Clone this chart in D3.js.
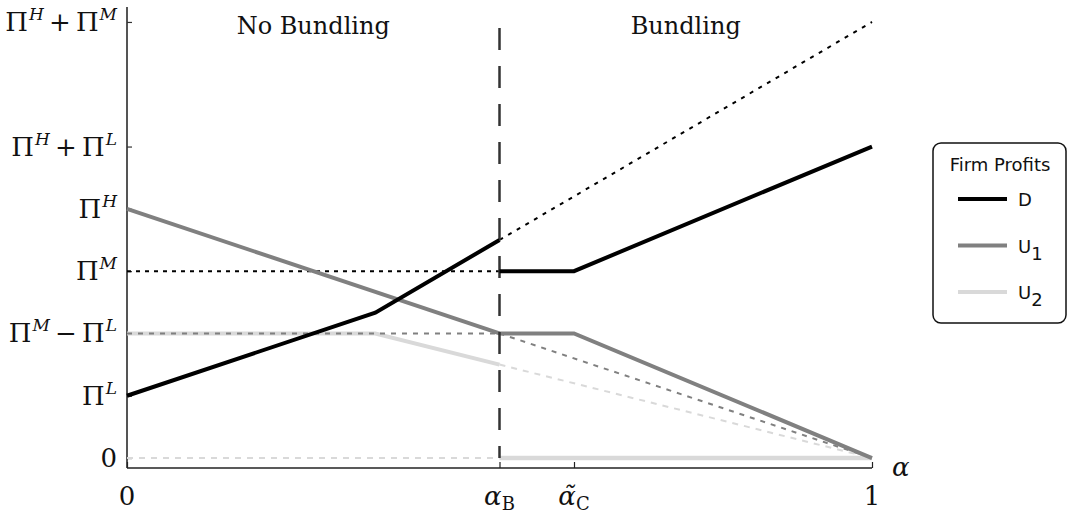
<!DOCTYPE html>
<html>
<head>
<meta charset="utf-8">
<script src="https://cdn.jsdelivr.net/npm/d3@7"></script>
<style>
  body { margin: 0; background: #fff; }
  svg { display: block; }
</style>
</head>
<body>
<div id="chart"></div>
<script>
// profit levels in units of Pi^L (Pi^L = 1, Pi^M = 3, Pi^H = 4)
var yTickValues = [0, 1, 2, 3, 4, 5, 7];
var yTickLabels = [
  [["0"]],
  [["\u03A0"], ["L", "sup"]],
  [["\u03A0"], ["M", "sup"], ["\u2009\u2212\u2009\u03A0"], ["L", "sup"]],
  [["\u03A0"], ["M", "sup"]],
  [["\u03A0"], ["H", "sup"]],
  [["\u03A0"], ["H", "sup"], ["\u2009+\u2009\u03A0"], ["L", "sup"]],
  [["\u03A0"], ["H", "sup"], ["\u2009+\u2009\u03A0"], ["M", "sup"]]
];
var xTickValues = [0, 0.5, 0.6, 1];
var xTickLabels = [
  [["0", "up"]],
  [["\u03B1", "it"], ["B", "sub"]],
  [["\u03B1\u0303", "it"], ["C", "sub"]],
  [["1", "up"]]
];
var alphaB = 0.5, alphaC = 0.6;

// series: [alpha, profit]
var dNoBundle = [[0, 1], [1/3, 7/3], [0.5, 3.5]];
var dBundle = [[0.5, 3], [0.6, 3], [1, 5]];
var dAlt = [[0.5, 3.5], [1, 7]];
var u1NoBundle = [[0, 4], [0.5, 2]];
var u1Bundle = [[0.5, 2], [0.6, 2], [1, 0]];
var u1Alt = [[0.5, 2], [1, 0]];
var u2NoBundle = [[0, 2], [1/3, 2], [0.5, 1.5]];
var u2Bundle = [[0.5, 0], [1, 0]];
var u2Alt = [[0.5, 1.5], [1, 0]];
var u2Zero = [[0, 0], [0.5, 0]];
var refM = [[0, 3], [0.5, 3]];
var refML = [[0, 2], [0.5, 2]];

var legendNames = [["D"], ["U", "1"], ["U", "2"]];
var colors = { D: "#000000", U1: "#808080", U2: "#d9d9d9" };

var width = 1068, height = 516;
var svg = d3.select("#chart").append("svg")
  .attr("width", width)
  .attr("height", height);

var x = d3.scaleLinear().domain([0, 1]).range([127, 872]);
var y = d3.scaleLinear().domain([-0.16, 7.24]).range([468, 7]);

var line = d3.line()
  .x(function (d) { return x(d[0]); })
  .y(function (d) { return y(d[1]); });

var serif = "'DejaVu Serif', serif";
var sans = "'DejaVu Sans', sans-serif";

// axes
var yAxis = d3.axisRight(y).tickValues(yTickValues).tickSize(5).tickFormat("");
svg.append("g")
  .attr("transform", "translate(" + x(0) + ",0)")
  .call(yAxis)
  .call(function (g) { g.selectAll("line").attr("stroke", "#333").attr("stroke-width", 1.2); })
  .call(function (g) { g.select(".domain").attr("stroke", "#555").attr("stroke-width", 2).attr("d", "M0,7V468"); });

var xAxis = d3.axisTop(x).tickValues(xTickValues).tickSize(6).tickFormat("");
svg.append("g")
  .attr("transform", "translate(0," + y.range()[0] + ")")
  .call(xAxis)
  .call(function (g) { g.selectAll("line").attr("stroke", "#222").attr("stroke-width", 1.2); })
  .call(function (g) { g.select(".domain").attr("stroke", "#222").attr("stroke-width", 1.5).attr("d", "M127,0H872"); });

// y tick labels
yTickValues.forEach(function (v, i) {
  var t = svg.append("text")
    .attr("x", 117)
    .attr("y", y(v) + 9)
    .attr("text-anchor", "end")
    .attr("font-family", serif)
    .attr("font-size", 26)
    .attr("fill", "#111");
  var raised = false;
  yTickLabels[i].forEach(function (p) {
    if (p[1] === "sup") {
      t.append("tspan").attr("font-size", 17).attr("font-style", "italic")
        .attr("dx", 1).attr("dy", -11).text(p[0]);
      raised = true;
    } else {
      t.append("tspan").attr("dy", raised ? 11 : 0).text(p[0]);
      raised = false;
    }
  });
});

// x tick labels
xTickValues.forEach(function (v, i) {
  var t = svg.append("text")
    .attr("x", x(v))
    .attr("y", 505)
    .attr("text-anchor", "middle")
    .attr("font-family", serif)
    .attr("font-size", 26)
    .attr("fill", "#111");
  xTickLabels[i].forEach(function (p) {
    if (p[1] === "sub") {
      t.append("tspan").attr("font-size", 18).attr("dy", 5).text(p[0]);
    } else if (p[1] === "it") {
      t.append("tspan").attr("font-style", "italic").text(p[0]);
    } else {
      t.append("tspan").text(p[0]);
    }
  });
});

svg.append("text")
  .attr("x", 892)
  .attr("y", 476)
  .attr("font-family", serif)
  .attr("font-style", "italic")
  .attr("font-size", 26)
  .attr("fill", "#111")
  .text("\u03B1");

// region titles
[["No Bundling", 0, alphaB], ["Bundling", alphaB, 1]].forEach(function (r) {
  svg.append("text")
    .attr("x", (x(r[1]) + x(r[2])) / 2)
    .attr("y", 34)
    .attr("text-anchor", "middle")
    .attr("font-family", serif)
    .attr("font-size", 24)
    .attr("fill", "#111")
    .text(r[0]);
});

function draw(data, color, w, dash) {
  svg.append("path")
    .datum(data)
    .attr("fill", "none")
    .attr("stroke", color)
    .attr("stroke-width", w)
    .attr("stroke-dasharray", dash || null)
    .attr("d", line);
}

// U2 (light)
draw(u2Zero, colors.U2, 2, "6,6");
draw(u2NoBundle, colors.U2, 4);
draw(u2Alt, colors.U2, 2, "6,6");
draw(u2Bundle, colors.U2, 4.5);

// reference lines
draw(refML, colors.U1, 2, "5,6");
draw(refM, "#000", 2, "4,5");
draw(u1Alt, colors.U1, 2, "5,6");
draw(dAlt, "#000", 2, "4,6");

// U1
draw(u1NoBundle, colors.U1, 4);
draw(u1Bundle, colors.U1, 4);

// alpha_B divider
svg.append("line")
  .attr("x1", x(alphaB)).attr("x2", x(alphaB))
  .attr("y1", 28).attr("y2", y(0))
  .attr("stroke", "#333")
  .attr("stroke-width", 2.5)
  .attr("stroke-dasharray", "22,16");

// D
draw(dNoBundle, colors.D, 4);
draw(dBundle, colors.D, 4);

// legend
var lg = svg.append("g").attr("transform", "translate(933,143)");
lg.append("rect")
  .attr("width", 133).attr("height", 180)
  .attr("rx", 8)
  .attr("fill", "#fff")
  .attr("stroke", "#111")
  .attr("stroke-width", 1.5);
lg.append("text")
  .attr("x", 67).attr("y", 28)
  .attr("text-anchor", "middle")
  .attr("font-family", sans)
  .attr("font-size", 18)
  .attr("fill", "#111")
  .text("Firm Profits");
var legendColors = [colors.D, colors.U1, colors.U2];
var legendY = d3.scalePoint().domain(d3.range(3)).range([56, 149]);
legendNames.forEach(function (n, i) {
  lg.append("line")
    .attr("x1", 25).attr("x2", 74)
    .attr("y1", legendY(i)).attr("y2", legendY(i))
    .attr("stroke", legendColors[i])
    .attr("stroke-width", 4);
  var t = lg.append("text")
    .attr("x", 85).attr("y", legendY(i) + 7)
    .attr("font-family", sans)
    .attr("font-size", 18)
    .attr("fill", "#111");
  t.append("tspan").text(n[0]);
  if (n[1]) t.append("tspan").attr("dy", 7).text(n[1]);
});
</script>
</body>
</html>
